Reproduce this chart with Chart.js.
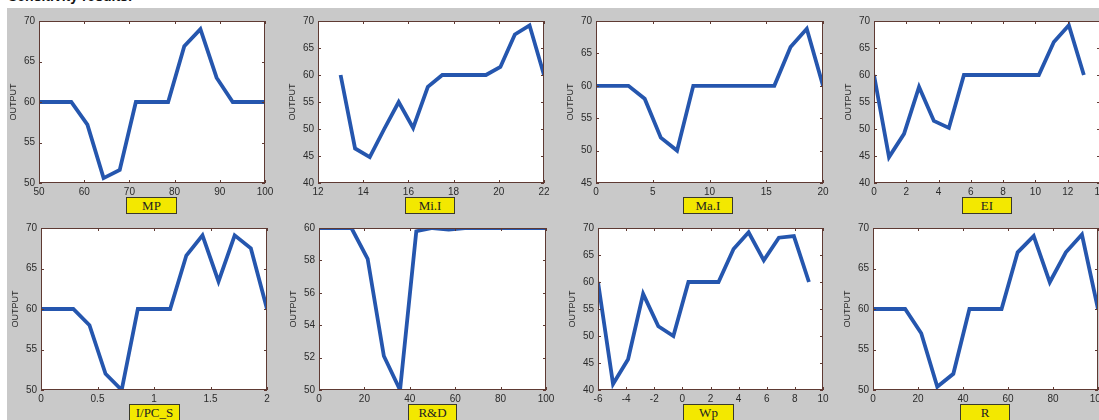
<!DOCTYPE html>
<html>
<head>
<meta charset="utf-8">
<script src="https://cdn.jsdelivr.net/npm/chart.js@4"></script>
<style>
  html, body { margin: 0; padding: 0; }
  body { width: 1099px; height: 420px; overflow: hidden; position: relative; background: #fff; }
  #bg { position: absolute; left: 7px; top: 8px; right: 0; bottom: 0; background: #c9c9c9; }
  .cap { position: absolute; top: -12px; left: 8px; font: bold 14px "Liberation Sans", Arial, sans-serif; color: #111; white-space: nowrap; }
  .panel { position: absolute; }
  .tag { position: absolute; height: 15px; background: #f3e800; border: 1px solid #3a3a2a;
         font: 13px "Liberation Serif", "Times New Roman", serif; color: #222; text-align: center; line-height: 15px; }
</style>
</head>
<body>
<div id="bg"></div>
<div class="cap">Sensitivity results:</div>

<script>
// ── data ───────────────────────────────────────────────────────────
const labels = ['MP', 'Mi.I', 'Ma.I', 'EI', 'I/PC_S', 'R&D', 'Wp', 'R'];

const mpX = [50, 53.57, 57.14, 60.71, 64.29, 67.86, 71.43, 75, 78.57, 82.14, 85.71, 89.29, 92.86, 96.43, 100];
const mpY = [60, 60, 60, 57.2, 50.6, 51.6, 60, 60, 60, 66.9, 69, 63, 60, 60, 60];

const miX = [13, 13.64, 14.29, 14.93, 15.57, 16.21, 16.86, 17.5, 18.14, 18.79, 19.43, 20.07, 20.71, 21.36, 22];
const miY = [60, 46.4, 44.8, 50, 55, 50.2, 57.8, 60, 60, 60, 60, 61.5, 67.5, 69.2, 60];

const maX = [0, 1.43, 2.86, 4.29, 5.71, 7.14, 8.57, 10, 11.43, 12.86, 14.29, 15.71, 17.14, 18.57, 20];
const maY = [60, 60, 60, 58, 52, 50, 60, 60, 60, 60, 60, 60, 66, 68.8, 60];

const eiX = [0, 0.93, 1.86, 2.79, 3.71, 4.64, 5.57, 6.5, 7.43, 8.36, 9.29, 10.21, 11.14, 12.07, 13];
const eiY = [60, 44.8, 49.1, 57.8, 51.5, 50.2, 60, 60, 60, 60, 60, 60, 66.1, 69.2, 60];

const ipX = [0, 0.143, 0.286, 0.429, 0.571, 0.714, 0.857, 1, 1.143, 1.286, 1.429, 1.571, 1.714, 1.857, 2];
const ipY = [60, 60, 60, 58, 52, 50, 60, 60, 60, 66.6, 69.1, 63.4, 69.1, 67.5, 60];

const rdX = [0, 7.14, 14.29, 21.43, 28.57, 35.71, 42.86, 50, 57.14, 64.29, 71.43, 78.57, 85.71, 92.86, 100];
const rdY = [60, 60, 60, 58.1, 52.1, 50, 59.8, 60, 59.9, 60, 60, 60, 60, 60, 60];

const wpX = [-6, -4.93, -3.86, -2.79, -1.71, -0.64, 0.43, 1.5, 2.57, 3.64, 4.71, 5.79, 6.86, 7.93, 9];
const wpY = [60, 41.1, 45.7, 57.8, 51.8, 50, 60, 60, 60, 66.1, 69.2, 64, 68.2, 68.5, 60];

const rX = [0, 7.14, 14.29, 21.43, 28.57, 35.71, 42.86, 50, 57.14, 64.29, 71.43, 78.57, 85.71, 92.86, 100];
const rY = [60, 60, 60, 57, 50.4, 52, 60, 60, 60, 67, 69, 63.3, 67, 69.2, 60];

// tick labels per panel
const xTicks = [
  [50, 60, 70, 80, 90, 100],
  [12, 14, 16, 18, 20, 22],
  [0, 5, 10, 15, 20],
  [0, 2, 4, 6, 8, 10, 12, 14],
  [0, 0.5, 1, 1.5, 2],
  [0, 20, 40, 60, 80, 100],
  [-6, -4, -2, 0, 2, 4, 6, 8, 10],
  [0, 20, 40, 60, 80, 100],
];
const yTicks = [
  [50, 55, 60, 65, 70],
  [40, 45, 50, 55, 60, 65, 70],
  [45, 50, 55, 60, 65, 70],
  [40, 45, 50, 55, 60, 65, 70],
  [50, 55, 60, 65, 70],
  [50, 52, 54, 56, 58, 60],
  [40, 45, 50, 55, 60, 65, 70],
  [50, 55, 60, 65, 70],
];
const seriesX = [mpX, miX, maX, eiX, ipX, rdX, wpX, rX];
const seriesY = [mpY, miY, maY, eiY, ipY, rdY, wpY, rY];

// ── layout (plot box: left, top, right, bottom) and tag boxes ───────
const boxes = [
  [39, 21, 265, 183], [318, 21, 544, 183], [596, 21, 823, 183], [874, 21, 1100, 183],
  [41, 228, 267, 390], [319, 228, 546, 390], [598, 228, 823, 390], [873, 228, 1098, 390],
];
const tags = [
  [126, 197, 51], [405, 197, 50], [683, 197, 50], [962, 197, 50],
  [129, 404, 51], [408, 404, 49], [683, 404, 51], [960, 404, 50],
];

const AX_W = 40, AX_H = 16, PAD_T = 10, PAD_R = 14;
const TXT = '#2b2b2b';
const EDGE = '#5e3a33';

const boxPlugin = {
  id: 'matlabBox',
  beforeDraw(chart) {
    const { ctx, chartArea: a } = chart;
    ctx.save();
    ctx.fillStyle = '#fff';
    ctx.fillRect(a.left, a.top, a.right - a.left, a.bottom - a.top);
    ctx.restore();
  },
  afterDatasetsDraw(chart) {
    const { ctx, chartArea: a, scales } = chart;
    ctx.save();
    ctx.strokeStyle = EDGE;
    ctx.lineWidth = 1;
    ctx.beginPath();
    scales.x.ticks.forEach(t => {
      const px = Math.round(scales.x.getPixelForValue(t.value)) + 0.5;
      ctx.moveTo(px, a.bottom); ctx.lineTo(px, a.bottom - 3);
      ctx.moveTo(px, a.top);    ctx.lineTo(px, a.top + 3);
    });
    scales.y.ticks.forEach(t => {
      const py = Math.round(scales.y.getPixelForValue(t.value)) + 0.5;
      ctx.moveTo(a.left, py);  ctx.lineTo(a.left + 3, py);
      ctx.moveTo(a.right, py); ctx.lineTo(a.right - 3, py);
    });
    ctx.stroke();
    ctx.strokeRect(a.left + 0.5, a.top + 0.5, a.right - a.left - 1, a.bottom - a.top - 1);
    ctx.restore();
  },
};

function makePanel(i) {
  const [l, t, r, b] = boxes[i];
  const w = (r - l) + AX_W + PAD_R;
  const h = (b - t) + PAD_T + AX_H;

  const div = document.createElement('div');
  div.className = 'panel';
  div.style.left = (l - AX_W) + 'px';
  div.style.top = (t - PAD_T) + 'px';
  const cv = document.createElement('canvas');
  cv.width = w; cv.height = h;
  cv.style.width = w + 'px'; cv.style.height = h + 'px';
  div.appendChild(cv);
  document.body.appendChild(div);

  const xs = xTicks[i], ys = yTicks[i];
  const pts = seriesX[i].map((x, k) => ({ x, y: seriesY[i][k] }));

  new Chart(cv, {
    type: 'line',
    data: {
      datasets: [{
        data: pts,
        borderColor: '#2556ae',
        borderWidth: 3.8,
        pointRadius: 0,
        tension: 0,
        fill: false,
      }],
    },
    options: {
      responsive: false,
      animation: false,
      devicePixelRatio: 1,
      layout: { padding: { top: PAD_T, right: PAD_R, left: 0, bottom: 0 } },
      plugins: { legend: { display: false }, tooltip: { enabled: false } },
      scales: {
        x: {
          type: 'linear',
          min: xs[0], max: xs[xs.length - 1],
          grid: { display: false, drawTicks: false },
          border: { display: false },
          ticks: {
            autoSkip: false, maxRotation: 0, padding: 3, color: TXT,
            font: { family: '"Liberation Sans", Arial, sans-serif', size: 10 },
            callback: v => String(v),
          },
          afterBuildTicks: s => { s.ticks = xs.map(v => ({ value: v })); },
          afterFit: s => { s.height = AX_H; s.paddingLeft = 0; s.paddingRight = 0; },
        },
        y: {
          type: 'linear',
          min: ys[0], max: ys[ys.length - 1],
          grid: { display: false, drawTicks: false },
          border: { display: false },
          ticks: {
            autoSkip: false, padding: 4, color: TXT,
            font: { family: '"Liberation Sans", Arial, sans-serif', size: 10 },
            callback: v => String(v),
          },
          title: {
            display: true, text: 'OUTPUT', color: TXT,
            font: { family: '"Liberation Sans", Arial, sans-serif', size: 9 },
            padding: { top: 9, bottom: 0 },
          },
          afterBuildTicks: s => { s.ticks = ys.map(v => ({ value: v })); },
          afterFit: s => { s.width = AX_W; s.paddingTop = 0; s.paddingBottom = 0; },
        },
      },
    },
    plugins: [boxPlugin],
  });

  const [tl, tt, tw] = tags[i];
  const tag = document.createElement('div');
  tag.className = 'tag';
  tag.style.left = tl + 'px';
  tag.style.top = tt + 'px';
  tag.style.width = (tw - 2) + 'px';
  tag.textContent = labels[i];
  document.body.appendChild(tag);
}

labels.forEach((_, i) => makePanel(i));
</script>
</body>
</html>
